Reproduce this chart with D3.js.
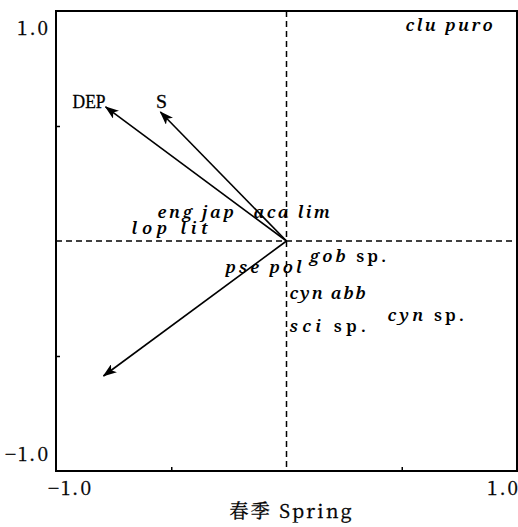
<!DOCTYPE html>
<html>
<head>
<meta charset="utf-8">
<script src="https://cdn.jsdelivr.net/npm/d3@7"></script>
<style>
  html, body { margin: 0; padding: 0; background: #fff; }
  svg { display: block; }
</style>
</head>
<body>
<svg id="chart" width="518" height="527"></svg>
<script>
// CCA ordination biplot, spring samples
const axisTitle = "春季 Spring";
const axisTicks = [-1, 1];
const minorTicks = [-0.5, 0.5];

// species scores (genus, epithet, axis 1, axis 2)
const speciesGenus   = ["clu", "eng", "aca", "lop", "pse", "gob", "cyn", "sci", "cyn"];
const speciesEpithet = ["puro", "jap", "lim", "lit", "pol", "sp.", "abb", "sp.", "sp."];
const speciesX = [0.516, -0.560, -0.143, -0.672, -0.265, 0.100, 0.013, 0.013, 0.438];
const speciesY = [0.913, 0.100, 0.100, 0.030, -0.139, -0.091, -0.252, -0.396, -0.348];

// environmental vectors
const envNames = ["DEP", "S", ""];
const envX = [-0.785, -0.547, -0.794];
const envY = [0.583, 0.561, -0.587];

const svg = d3.select("#chart");
const plotL = 56, plotR = 517, plotT = 11, plotB = 471;
const x = d3.scaleLinear().domain([-1, 1]).range([plotL, plotR]);
const y = d3.scaleLinear().domain([-1, 1]).range([plotB, plotT]);

const serif = "'Liberation Serif', serif";
const cjkSerif = "'Noto Serif CJK SC', 'Noto Serif', serif";
const labelFont = "'Noto Serif', 'DejaVu Serif', serif";
const CHAR_W = 10.9;

// arrowhead marker
svg.append("defs").append("marker")
  .attr("id", "head")
  .attr("viewBox", "0 0 14 10")
  .attr("refX", 13).attr("refY", 5)
  .attr("markerWidth", 14).attr("markerHeight", 10)
  .attr("markerUnits", "userSpaceOnUse")
  .attr("orient", "auto")
  .append("path")
  .attr("d", "M0,0 L14,5 L0,10 L3.5,5 Z")
  .attr("fill", "#000");

// zero lines
svg.append("line")
  .attr("x1", x(0)).attr("x2", x(0)).attr("y1", y(1)).attr("y2", y(-1))
  .attr("stroke", "#000").attr("stroke-width", 1.5).attr("stroke-dasharray", "6,4");
svg.append("line")
  .attr("x1", x(-1)).attr("x2", x(1)).attr("y1", y(0)).attr("y2", y(0))
  .attr("stroke", "#000").attr("stroke-width", 1.5).attr("stroke-dasharray", "6,4");

// frame
svg.append("rect")
  .attr("x", plotL).attr("y", plotT).attr("width", plotR - plotL).attr("height", plotB - plotT)
  .attr("fill", "none").attr("stroke", "#000").attr("stroke-width", 2);

// inward minor ticks on left and bottom
const yAxis = d3.axisLeft(y).tickValues(minorTicks).tickSize(-4).tickFormat("");
const xAxis = d3.axisBottom(x).tickValues(minorTicks).tickSize(-4).tickFormat("");
svg.append("g").attr("transform", `translate(${plotL},0)`).call(yAxis)
  .call(g => g.select(".domain").remove())
  .selectAll("line").attr("stroke-width", 1.5);
svg.append("g").attr("transform", `translate(0,${plotB})`).call(xAxis)
  .call(g => g.select(".domain").remove())
  .selectAll("line").attr("stroke-width", 1.5);

// tick labels
const fmt = d3.format(".1f");
const lbl = t => fmt(t).replace("-", "\u2212");
svg.selectAll(".ylab").data(axisTicks).join("text")
  .attr("x", plotL - 8)
  .attr("y", d => d > 0 ? y(d) + 24 : y(d) - 10)
  .attr("text-anchor", "end")
  .attr("font-family", cjkSerif).attr("font-size", 19)
  .attr("stroke", "#000").attr("stroke-width", 0.35)
  .attr("textLength", d => d < 0 ? 43 : 31)
  .attr("lengthAdjust", "spacing")
  .text(lbl);
svg.selectAll(".xlab").data(axisTicks).join("text")
  .attr("x", d => d < 0 ? x(d) - 8 : x(d) - 30)
  .attr("y", plotB + 24)
  .attr("font-family", cjkSerif).attr("font-size", 19)
  .attr("stroke", "#000").attr("stroke-width", 0.35)
  .attr("textLength", d => d < 0 ? 43 : 31)
  .attr("lengthAdjust", "spacing")
  .text(lbl);

// axis title
svg.append("text")
  .attr("x", x(0) + 4).attr("y", 518)
  .attr("text-anchor", "middle")
  .attr("font-family", cjkSerif).attr("font-size", 19)
  .attr("stroke", "#000").attr("stroke-width", 0.35)
  .attr("textLength", 122)
  .attr("lengthAdjust", "spacing")
  .text(axisTitle);

// environmental arrows
const origin = [x(0), y(0)];
svg.selectAll(".env").data(envNames).join("line")
  .attr("x1", origin[0]).attr("y1", origin[1])
  .attr("x2", (d, i) => x(envX[i])).attr("y2", (d, i) => y(envY[i]))
  .attr("stroke", "#000").attr("stroke-width", 1.6)
  .attr("marker-end", "url(#head)");

const envAnchor = d => d === "S" ? "middle" : "end";
svg.selectAll(".envlab").data(envNames.filter(d => d)).join("text")
  .attr("x", (d, i) => x(envX[i]) + (d === "S" ? 1 : 0))
  .attr("y", (d, i) => y(envY[i]) + (d === "S" ? -4 : 1))
  .attr("text-anchor", envAnchor)
  .attr("font-family", serif).attr("font-size", 19)
  .attr("stroke", "#000").attr("stroke-width", 0.3)
  .attr("textLength", d => d.length * 11)
  .attr("lengthAdjust", "spacingAndGlyphs")
  .text(d => d);

// species labels placed at their scores
const sp = svg.selectAll(".sp").data(speciesGenus).join("text")
  .attr("x", (d, i) => x(speciesX[i]))
  .attr("y", (d, i) => y(speciesY[i]))
  .attr("font-family", labelFont).attr("font-size", 17)
  .attr("font-weight", 600);
sp.each(function(g, i) {
  const t = d3.select(this);
  const ep = speciesEpithet[i];
  const full = g + " " + ep;
  t.attr("textLength", full.length * CHAR_W).attr("lengthAdjust", "spacing");
  t.append("tspan").attr("font-style", "italic").text(g + " ");
  t.append("tspan").attr("font-style", ep === "sp." ? "normal" : "italic").text(ep);
});
</script>
</body>
</html>
